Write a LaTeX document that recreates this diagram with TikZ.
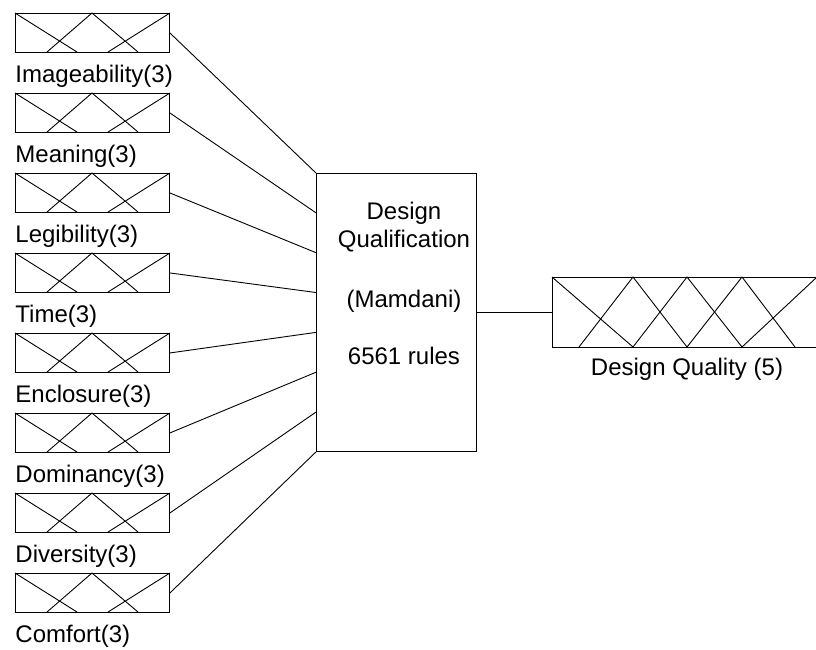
\documentclass[tikz,border=0pt]{standalone}
\usepackage{fontspec}
\setmainfont{Liberation Sans}
\usetikzlibrary{calc}
\tikzset{
  mfbox/.style={draw, rectangle, minimum width=154pt, minimum height=39pt,
    inner sep=0pt, anchor=north west},
  varlabel/.style={anchor=base west, inner sep=0pt, font=\fontsize{24}{28}\selectfont},
  boxtext/.style={anchor=base, inner sep=0pt, font=\fontsize{24}{28}\selectfont},
  fisbox/.style={draw, rectangle, minimum width=160pt, minimum height=278pt,
    inner sep=0pt, anchor=north west},
  outbox/.style={draw, rectangle, minimum width=265pt, minimum height=70pt,
    inner sep=0pt, anchor=north west},
  wire/.style={line width=0.9pt}
}
\begin{document}
\begin{tikzpicture}[x=1pt, y=-1pt, line width=0.9pt]
\useasboundingbox (0,0) rectangle (816,649);

% inference block
\node[fisbox] (fis) at (316,173) {};
\node[boxtext] (t1) at (404,219) {Design};
\node[boxtext] (t2) at (404,247) {Qualification};
\node[boxtext] (t3) at (404,307) {(Mamdani)};
\node[boxtext] (t4) at (404,364) {6561 rules};

% input variables with three membership functions each
\foreach \name [count=\i from 0] in {Imageability,Meaning,Legibility,Time,Enclosure,Dominancy,Diversity,Comfort} {
  \node[mfbox] (in\i) at (15,13+80*\i) {};
  \draw (in\i.north west) -- ++(62,39);
  \draw ($(in\i.north west)+(32,39)$) -- ++(45,-39) -- ++(46,39);
  \draw ($(in\i.north west)+(93,39)$) -- (in\i.north east);
  \node[varlabel] (lab\i) at (15,82+80*\i) {\name(3)};
  \coordinate (p\i) at ($(fis.north west)!\i/7!(fis.south west)$);
  \draw[wire] (in\i.east) -- (p\i);
}

% output variable with five membership functions
\node[outbox] (out) at (552,277) {};
\draw (out.north west) -- ++(81,70);
\draw ($(out.north west)+(27,70)$) -- ++(54,-70) -- ++(54,70);
\draw ($(out.north west)+(81,70)$) -- ++(54,-70) -- ++(55,70);
\draw ($(out.north west)+(135,70)$) -- ++(55,-70) -- ++(53,70);
\draw ($(out.north west)+(190,70)$) -- ++(75,-70);
\node[boxtext] (outlab) at (687,375) {Design Quality (5)};

\draw[wire] (fis.east) -- (out.west);
\end{tikzpicture}
\end{document}
